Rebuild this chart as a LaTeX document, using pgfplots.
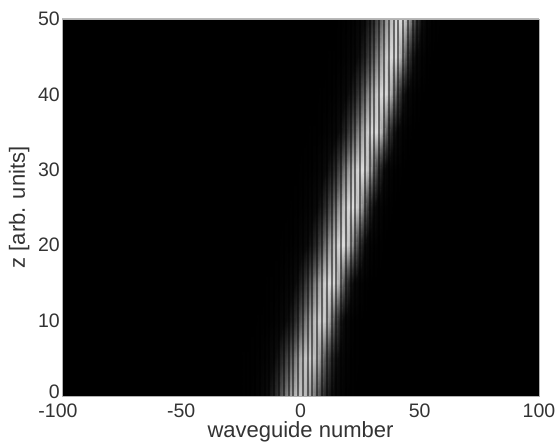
\documentclass[border=0pt]{standalone}
\usepackage{pgfplots}
\pgfplotsset{compat=1.18}
\usepackage{fontspec}
\setmainfont{Liberation Sans}
\begin{document}
\begin{tikzpicture}
\begin{axis}[
  scale only axis, width=477pt, height=377pt, at={(0pt,0pt)}, anchor=south west,
  xmin=-100, xmax=100, ymin=0, ymax=50,
  xtick={-100,-50,0,50,100}, xticklabels={\hspace{-8pt}-100,-50,0,50,100},
  ytick={0,10,20,30,40,50}, yticklabels={\raisebox{8pt}{0},10,20,30,40,50},
  tick style={draw=none},
  tick label style={font=\fontsize{19.5}{22}\selectfont, text=black!80, inner sep=0pt},
  xticklabel style={yshift=-8pt},
  yticklabel style={xshift=-2pt},
  label style={font=\fontsize{22}{24}\selectfont, text=black!80, inner sep=0pt},
  xlabel={waveguide number}, ylabel={z [arb. units]},
  xlabel style={at={(axis description cs:0.5,-0.11)}, anchor=base},
  ylabel style={at={(axis description cs:-0.09,0.5)}, anchor=center},
  axis line style={draw=gray!60, line width=0.8pt},
  axis background/.style={fill=black},
  colormap={bw}{gray(0cm)=(0); gray(1cm)=(0.04); gray(2cm)=(0.17); gray(3cm)=(0.35); gray(4cm)=(0.6); gray(5cm)=(0.85); gray(6cm)=(1)},
  point meta min=0, point meta max=100,
  axis on top,
  clip=true,
]
\addplot[surf, shader=interp, mesh/cols=44, point meta=explicit] coordinates {
(-26,0)[0] (-24,0)[1] (-22,0)[2] (-20,0)[3] (-18,0)[6] (-16,0)[11] (-14,0)[17] (-12,0)[25] (-10,0)[36] (-8,0)[48] (-6,0)[59] (-4,0)[69] (-2,0)[76] (0,0)[78] (2,0)[75] (4,0)[68] (6,0)[57] (8,0)[44] (10,0)[32] (12,0)[22] (14,0)[14] (16,0)[8] (18,0)[4] (20,0)[2] (22,0)[1] (24,0)[0] (26,0)[0] (28,0)[0] (30,0)[0] (32,0)[0] (34,0)[0] (36,0)[0] (38,0)[0] (40,0)[0] (42,0)[0] (44,0)[0] (46,0)[0] (48,0)[0] (50,0)[0] (52,0)[0] (54,0)[0] (56,0)[0] (58,0)[0] (60,0)[0]
(-26,5)[0] (-24,5)[1] (-22,5)[1] (-20,5)[2] (-18,5)[3] (-16,5)[5] (-14,5)[8] (-12,5)[14] (-10,5)[21] (-8,5)[30] (-6,5)[40] (-4,5)[51] (-2,5)[62] (0,5)[72] (2,5)[78] (4,5)[80] (6,5)[76] (8,5)[66] (10,5)[52] (12,5)[38] (14,5)[24] (16,5)[15] (18,5)[8] (20,5)[4] (22,5)[2] (24,5)[1] (26,5)[0] (28,5)[0] (30,5)[0] (32,5)[0] (34,5)[0] (36,5)[0] (38,5)[0] (40,5)[0] (42,5)[0] (44,5)[0] (46,5)[0] (48,5)[0] (50,5)[0] (52,5)[0] (54,5)[0] (56,5)[0] (58,5)[0] (60,5)[0]
(-26,10)[0] (-24,10)[0] (-22,10)[0] (-20,10)[0] (-18,10)[1] (-16,10)[1] (-14,10)[2] (-12,10)[4] (-10,10)[7] (-8,10)[11] (-6,10)[17] (-4,10)[25] (-2,10)[36] (0,10)[47] (2,10)[59] (4,10)[69] (6,10)[77] (8,10)[81] (10,10)[80] (12,10)[69] (14,10)[50] (16,10)[31] (18,10)[16] (20,10)[8] (22,10)[3] (24,10)[1] (26,10)[0] (28,10)[0] (30,10)[0] (32,10)[0] (34,10)[0] (36,10)[0] (38,10)[0] (40,10)[0] (42,10)[0] (44,10)[0] (46,10)[0] (48,10)[0] (50,10)[0] (52,10)[0] (54,10)[0] (56,10)[0] (58,10)[0] (60,10)[0]
(-26,15)[0] (-24,15)[0] (-22,15)[0] (-20,15)[0] (-18,15)[0] (-16,15)[0] (-14,15)[1] (-12,15)[1] (-10,15)[2] (-8,15)[4] (-6,15)[7] (-4,15)[11] (-2,15)[18] (0,15)[26] (2,15)[37] (4,15)[49] (6,15)[61] (8,15)[71] (10,15)[80] (12,15)[84] (14,15)[83] (16,15)[71] (18,15)[52] (20,15)[32] (22,15)[17] (24,15)[8] (26,15)[3] (28,15)[1] (30,15)[0] (32,15)[0] (34,15)[0] (36,15)[0] (38,15)[0] (40,15)[0] (42,15)[0] (44,15)[0] (46,15)[0] (48,15)[0] (50,15)[0] (52,15)[0] (54,15)[0] (56,15)[0] (58,15)[0] (60,15)[0]
(-26,20)[0] (-24,20)[0] (-22,20)[0] (-20,20)[0] (-18,20)[0] (-16,20)[0] (-14,20)[0] (-12,20)[0] (-10,20)[0] (-8,20)[1] (-6,20)[2] (-4,20)[3] (-2,20)[5] (0,20)[9] (2,20)[14] (4,20)[22] (6,20)[31] (8,20)[43] (10,20)[55] (12,20)[66] (14,20)[76] (16,20)[83] (18,20)[85] (20,20)[78] (22,20)[62] (24,20)[41] (26,20)[24] (28,20)[11] (30,20)[5] (32,20)[2] (34,20)[1] (36,20)[0] (38,20)[0] (40,20)[0] (42,20)[0] (44,20)[0] (46,20)[0] (48,20)[0] (50,20)[0] (52,20)[0] (54,20)[0] (56,20)[0] (58,20)[0] (60,20)[0]
(-26,25)[0] (-24,25)[0] (-22,25)[0] (-20,25)[0] (-18,25)[0] (-16,25)[0] (-14,25)[0] (-12,25)[0] (-10,25)[0] (-8,25)[0] (-6,25)[0] (-4,25)[1] (-2,25)[2] (0,25)[3] (2,25)[5] (4,25)[9] (6,25)[14] (8,25)[22] (10,25)[31] (12,25)[43] (14,25)[55] (16,25)[66] (18,25)[76] (20,25)[83] (22,25)[85] (24,25)[78] (26,25)[62] (28,25)[41] (30,25)[24] (32,25)[11] (34,25)[5] (36,25)[2] (38,25)[1] (40,25)[0] (42,25)[0] (44,25)[0] (46,25)[0] (48,25)[0] (50,25)[0] (52,25)[0] (54,25)[0] (56,25)[0] (58,25)[0] (60,25)[0]
(-26,30)[0] (-24,30)[0] (-22,30)[0] (-20,30)[0] (-18,30)[0] (-16,30)[0] (-14,30)[0] (-12,30)[0] (-10,30)[0] (-8,30)[0] (-6,30)[0] (-4,30)[0] (-2,30)[0] (0,30)[1] (2,30)[2] (4,30)[3] (6,30)[5] (8,30)[9] (10,30)[14] (12,30)[22] (14,30)[31] (16,30)[43] (18,30)[55] (20,30)[66] (22,30)[76] (24,30)[83] (26,30)[85] (28,30)[78] (30,30)[62] (32,30)[41] (34,30)[24] (36,30)[11] (38,30)[5] (40,30)[2] (42,30)[1] (44,30)[0] (46,30)[0] (48,30)[0] (50,30)[0] (52,30)[0] (54,30)[0] (56,30)[0] (58,30)[0] (60,30)[0]
(-26,35)[0] (-24,35)[0] (-22,35)[0] (-20,35)[0] (-18,35)[0] (-16,35)[0] (-14,35)[0] (-12,35)[0] (-10,35)[0] (-8,35)[0] (-6,35)[0] (-4,35)[0] (-2,35)[0] (0,35)[0] (2,35)[0] (4,35)[1] (6,35)[1] (8,35)[2] (10,35)[4] (12,35)[7] (14,35)[11] (16,35)[18] (18,35)[26] (20,35)[37] (22,35)[49] (24,35)[61] (26,35)[71] (28,35)[80] (30,35)[84] (32,35)[83] (34,35)[71] (36,35)[52] (38,35)[32] (40,35)[17] (42,35)[8] (44,35)[3] (46,35)[1] (48,35)[0] (50,35)[0] (52,35)[0] (54,35)[0] (56,35)[0] (58,35)[0] (60,35)[0]
(-26,40)[0] (-24,40)[0] (-22,40)[0] (-20,40)[0] (-18,40)[0] (-16,40)[0] (-14,40)[0] (-12,40)[0] (-10,40)[0] (-8,40)[0] (-6,40)[0] (-4,40)[0] (-2,40)[0] (0,40)[0] (2,40)[0] (4,40)[0] (6,40)[0] (8,40)[1] (10,40)[1] (12,40)[2] (14,40)[4] (16,40)[7] (18,40)[11] (20,40)[18] (22,40)[26] (24,40)[37] (26,40)[49] (28,40)[61] (30,40)[71] (32,40)[80] (34,40)[84] (36,40)[83] (38,40)[71] (40,40)[52] (42,40)[32] (44,40)[17] (46,40)[8] (48,40)[3] (50,40)[1] (52,40)[0] (54,40)[0] (56,40)[0] (58,40)[0] (60,40)[0]
(-26,45)[0] (-24,45)[0] (-22,45)[0] (-20,45)[0] (-18,45)[0] (-16,45)[0] (-14,45)[0] (-12,45)[0] (-10,45)[0] (-8,45)[0] (-6,45)[0] (-4,45)[0] (-2,45)[0] (0,45)[0] (2,45)[0] (4,45)[0] (6,45)[0] (8,45)[0] (10,45)[0] (12,45)[1] (14,45)[1] (16,45)[2] (18,45)[4] (20,45)[7] (22,45)[11] (24,45)[18] (26,45)[26] (28,45)[37] (30,45)[49] (32,45)[61] (34,45)[71] (36,45)[80] (38,45)[84] (40,45)[83] (42,45)[71] (44,45)[52] (46,45)[32] (48,45)[17] (50,45)[8] (52,45)[3] (54,45)[1] (56,45)[0] (58,45)[0] (60,45)[0]
(-26,50)[0] (-24,50)[0] (-22,50)[0] (-20,50)[0] (-18,50)[0] (-16,50)[0] (-14,50)[0] (-12,50)[0] (-10,50)[0] (-8,50)[0] (-6,50)[0] (-4,50)[0] (-2,50)[0] (0,50)[0] (2,50)[0] (4,50)[0] (6,50)[0] (8,50)[0] (10,50)[0] (12,50)[0] (14,50)[0] (16,50)[1] (18,50)[2] (20,50)[3] (22,50)[5] (24,50)[9] (26,50)[14] (28,50)[22] (30,50)[31] (32,50)[43] (34,50)[55] (36,50)[66] (38,50)[76] (40,50)[83] (42,50)[85] (44,50)[78] (46,50)[62] (48,50)[41] (50,50)[24] (52,50)[11] (54,50)[5] (56,50)[2] (58,50)[1] (60,50)[0]
};
\addplot[ycomb, mark=none, black, opacity=0.5, line width=2pt] coordinates {
(-25,50) (-23,50) (-21,50) (-19,50) (-17,50) (-15,50) (-13,50) (-11,50) (-9,50) (-7,50) (-5,50) (-3,50) (-1,50) (1,50) (3,50) (5,50) (7,50) (9,50) (11,50) (13,50) (15,50) (17,50) (19,50) (21,50) (23,50) (25,50) (27,50) (29,50) (31,50) (33,50) (35,50) (37,50) (39,50) (41,50) (43,50) (45,50) (47,50) (49,50) (51,50) (53,50) (55,50) (57,50) (59,50)
};
\draw[gray!55, line width=2.5pt] (rel axis cs:0,1) -- (rel axis cs:1,1);
\end{axis}
\path[use as bounding box] (-62pt,-46pt) rectangle (495pt,396pt);
\end{tikzpicture}
\end{document}
